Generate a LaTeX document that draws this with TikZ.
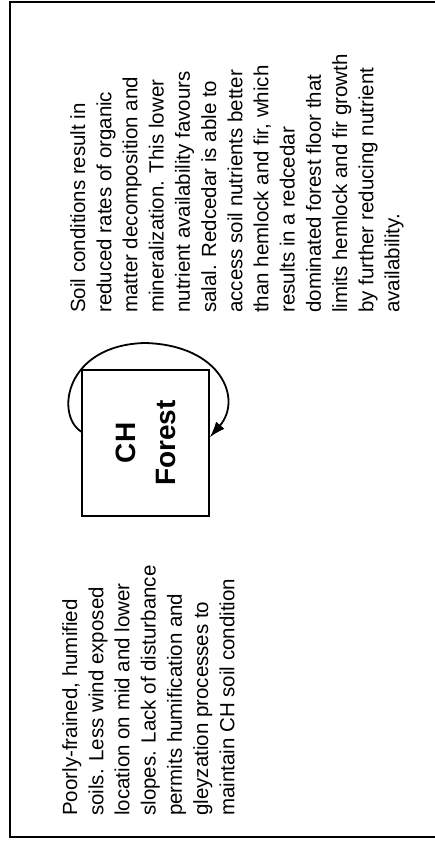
\documentclass[tikz,border=0pt]{standalone}
\usepackage{fontspec}
\setmainfont{Liberation Sans}
\usepackage{tikz}
\usetikzlibrary{arrows.meta}

\begin{document}
\begin{tikzpicture}[x=1pt, y=1pt,
  note/.style={align=left, inner sep=0pt, anchor=north west, font=\fontsize{20.5}{26.2}\selectfont},
  stand/.style={draw, line width=1.5pt, minimum width=146pt, minimum height=127pt, inner sep=0pt, align=center, font=\bfseries\fontsize{28}{40}\selectfont}]
% whole figure is laid out in landscape and turned on its side
\begin{scope}[rotate=90, transform shape]
\useasboundingbox (0,0) rectangle (845,435);
% frame (open on one side)
\draw[line width=2.5pt] (843,0) -- (843,425) -- (8,425) -- (8,0);
% stand type
\node[stand] (ch) at (402,289.5) {CH\\Forest};
% site conditions and feedback
\node[note] (site) at (29,373) {Poorly-frained, humified\\soils. Less wind exposed\\location on mid and lower\\slopes. Lack of disturbance\\permits humification and\\gleyzation processes to\\maintain CH soil condition};
\node[note] (feedback) at (532,365) {Soil conditions result in\\reduced rates of organic\\matter decomposition and\\mineralization. This lower\\nutrient availability favours\\salal. Redcedar is able to\\access soil nutrients better\\than hemlock and fir, which\\results in a redcedar\\dominated forest floor that\\limits hemlock and fir growth\\by further reducing nutrient\\availability.};
% self-reinforcing loop
\draw[line width=1.8pt, -{Latex[length=16pt,width=11pt]}] (ch.80) .. controls (430,380) and (500,370) .. (502,290) .. controls (500,214) and (446,192) .. (ch.-85);
\end{scope}
\end{tikzpicture}
\end{document}
